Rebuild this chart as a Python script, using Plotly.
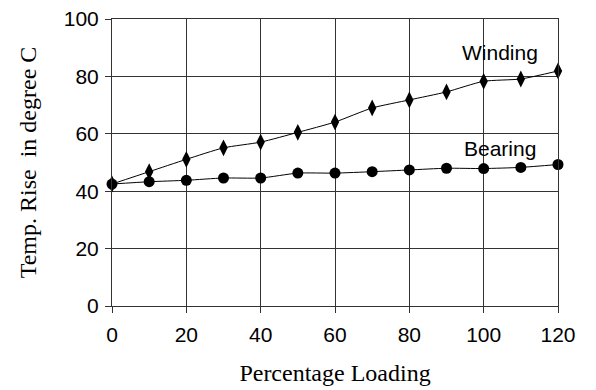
import plotly.graph_objects as go

loading = [0, 10, 20, 30, 40, 50, 60, 70, 80, 90, 100, 110, 120]
winding = [42.5, 46.8, 51.1, 55.1, 57.1, 60.5, 64.1, 69.0, 71.8, 74.6, 78.3, 79.1, 81.9]
bearing = [42.5, 43.3, 43.8, 44.6, 44.6, 46.3, 46.3, 46.8, 47.4, 48.0, 47.9, 48.3, 49.3]
x_ticks = [0, 20, 40, 60, 80, 100, 120]
y_ticks = [0, 20, 40, 60, 80, 100]

fig = go.Figure()
fig.add_trace(go.Scatter(
    x=loading, y=winding, mode="lines+markers", name="Winding",
    line=dict(color="black", width=1, shape="spline", smoothing=0.6),
    marker=dict(symbol="diamond-tall", size=12, color="black"),
    cliponaxis=False))
fig.add_trace(go.Scatter(
    x=loading, y=bearing, mode="lines+markers", name="Bearing",
    line=dict(color="black", width=1, shape="spline", smoothing=0.6),
    marker=dict(symbol="circle", size=11, color="black"),
    cliponaxis=False))

fig.add_annotation(x=104.4, y=88.5, text="Winding", showarrow=False,
                   font=dict(family="Liberation Sans, Arial", size=21, color="black"))
fig.add_annotation(x=104.4, y=55, text="Bearing", showarrow=False,
                   font=dict(family="Liberation Sans, Arial", size=21, color="black"))

fig.update_layout(
    width=596, height=390,
    margin=dict(l=112, r=38, t=19, b=84),
    plot_bgcolor="white", paper_bgcolor="white",
    showlegend=False,
    font=dict(family="Liberation Sans, Arial", size=20, color="black"),
)
fig.update_xaxes(
    range=[0, 120], tickvals=x_ticks, ticktext=[str(v) for v in x_ticks],
    showgrid=True, gridcolor="#333", gridwidth=1,
    showline=True, linecolor="#333", linewidth=1, mirror=True,
    ticks="outside", ticklen=6, tickcolor="#333",
    ticklabelstandoff=4, automargin=False,
    zeroline=False,
    tickfont=dict(family="Liberation Sans, Arial", size=21),
    title=dict(text="Percentage Loading", standoff=18,
               font=dict(family="Liberation Serif, Times New Roman", size=24)),
)
fig.update_yaxes(
    range=[0, 100], tickvals=y_ticks, ticktext=[str(v) for v in y_ticks],
    showgrid=True, gridcolor="#333", gridwidth=1,
    showline=True, linecolor="#333", linewidth=1, mirror=True,
    ticks="outside", ticklen=6, tickcolor="#333",
    ticklabelstandoff=2, automargin=False,
    zeroline=False,
    tickfont=dict(family="Liberation Sans, Arial", size=21),
    title=dict(text="Temp. Rise  in degree C", standoff=20,
               font=dict(family="Liberation Serif, Times New Roman", size=24)),
)

fig.write_html("out.html")
